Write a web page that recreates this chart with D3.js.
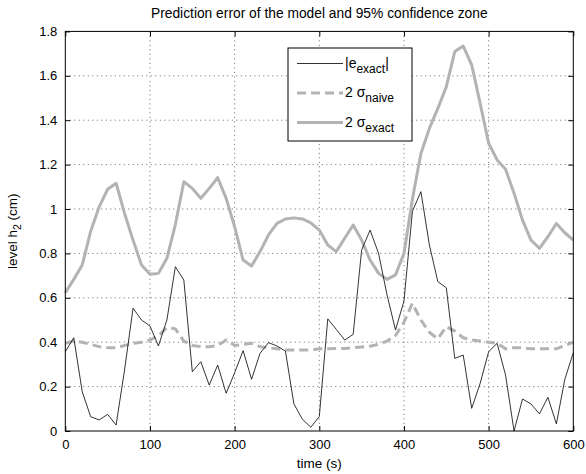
<!DOCTYPE html>
<html>
<head>
<meta charset="utf-8">
<script src="https://cdn.jsdelivr.net/npm/d3@7"></script>
<style>
  html, body { margin: 0; padding: 0; background: #fff; }
  svg { display: block; font-family: "Liberation Sans", Arial, Helvetica, sans-serif; }
</style>
</head>
<body>
<svg id="chart" width="586" height="474"></svg>
<script>
// ---- data ----
const time = d3.range(0, 601, 10);
const eExact = [0.357, 0.42, 0.177, 0.064, 0.05, 0.075, 0.027, 0.275, 0.553, 0.5,
  0.473, 0.383, 0.5, 0.74, 0.68, 0.267, 0.312, 0.207, 0.297, 0.17,
  0.262, 0.362, 0.233, 0.35, 0.398, 0.383, 0.36, 0.122, 0.053, 0.017,
  0.065, 0.505, 0.458, 0.41, 0.435, 0.815, 0.905, 0.80, 0.613, 0.455,
  0.585, 0.99, 1.078, 0.838, 0.673, 0.645, 0.327, 0.342, 0.102, 0.215,
  0.357, 0.395, 0.252, 0.0, 0.144, 0.122, 0.077, 0.152, 0.032, 0.233, 0.353];
const sigmaNaive = [0.395, 0.405, 0.40, 0.39, 0.38, 0.375, 0.375, 0.385, 0.395, 0.40,
  0.41, 0.43, 0.465, 0.46, 0.405, 0.385, 0.38, 0.38, 0.385, 0.41,
  0.385, 0.39, 0.395, 0.38, 0.375, 0.37, 0.365, 0.365, 0.365, 0.365,
  0.37, 0.37, 0.372, 0.372, 0.375, 0.378, 0.382, 0.39, 0.405, 0.43,
  0.49, 0.575, 0.50, 0.445, 0.415, 0.47, 0.45, 0.42, 0.41, 0.405,
  0.40, 0.395, 0.37, 0.375, 0.375, 0.37, 0.37, 0.37, 0.37, 0.385, 0.40];
const sigmaExact = [0.623, 0.683, 0.748, 0.90, 1.01, 1.089, 1.116, 0.98, 0.86, 0.748,
  0.706, 0.71, 0.778, 0.93, 1.123, 1.093, 1.048, 1.093, 1.141, 1.048,
  0.92, 0.77, 0.743, 0.808, 0.883, 0.935, 0.955, 0.96, 0.955, 0.938,
  0.905, 0.838, 0.808, 0.868, 0.928, 0.86, 0.77, 0.71, 0.683, 0.703,
  0.80, 1.045, 1.25, 1.363, 1.453, 1.551, 1.709, 1.734, 1.649, 1.476,
  1.296, 1.221, 1.179, 1.071, 0.95, 0.86, 0.823, 0.875, 0.935, 0.893, 0.86];
const xTicks = [0, 100, 200, 300, 400, 500, 600];
const yTicks = [0, 0.2, 0.4, 0.6, 0.8, 1, 1.2, 1.4, 1.6, 1.8];
const titleText = "Prediction error of the model and 95% confidence zone";

// ---- layout ----
const svg = d3.select("#chart");
const L = 65.3, R = 573.3, T = 31.4, B = 431;
const x = d3.scaleLinear().domain([0, 600]).range([L, R]);
const y = d3.scaleLinear().domain([0, 1.8]).range([B, T]);
const gray = "#b3b3b3";
const fmtY = d => (d === 0 ? "0" : d === 1 ? "1" : d3.format(".1f")(d));
const FS = 13;

// grid
const grid = svg.append("g").attr("stroke", "#000").attr("stroke-width", 0.6)
  .attr("stroke-dasharray", "1,3.5");
grid.selectAll("line.vx").data(xTicks.slice(1, -1)).join("line")
  .attr("x1", d => x(d)).attr("x2", d => x(d)).attr("y1", T).attr("y2", B);
grid.selectAll("line.hy").data(yTicks.slice(1, -1)).join("line")
  .attr("x1", L).attr("x2", R).attr("y1", d => y(d)).attr("y2", d => y(d));

// axes (ticks inside, MATLAB style)
const tl = 5;
svg.append("g").attr("transform", `translate(0,${B})`)
  .call(d3.axisBottom(x).tickValues(xTicks).tickSize(-tl).tickPadding(9).tickFormat(d3.format("d")))
  .call(g => g.select(".domain").remove())
  .call(g => g.selectAll("text").attr("font-size", FS).attr("fill", "#000").attr("font-family", "Liberation Sans, Arial, sans-serif"));
svg.append("g").attr("transform", `translate(0,${T})`)
  .call(d3.axisTop(x).tickValues(xTicks).tickSize(-tl).tickFormat(""))
  .call(g => g.select(".domain").remove());
svg.append("g").attr("transform", `translate(${L},0)`)
  .call(d3.axisLeft(y).tickValues(yTicks).tickSize(-tl).tickPadding(8).tickFormat(fmtY))
  .call(g => g.select(".domain").remove())
  .call(g => g.selectAll("text").attr("font-size", FS).attr("fill", "#000").attr("font-family", "Liberation Sans, Arial, sans-serif"));
svg.append("g").attr("transform", `translate(${R},0)`)
  .call(d3.axisRight(y).tickValues(yTicks).tickSize(-tl).tickFormat(""))
  .call(g => g.select(".domain").remove());

// lines
const mk = arr => d3.line().x((d, i) => x(time[i])).y(d => y(d))(arr);
svg.append("path").attr("d", mk(sigmaNaive)).attr("fill", "none")
  .attr("stroke", gray).attr("stroke-width", 3).attr("stroke-dasharray", "9,5");
svg.append("path").attr("d", mk(sigmaExact)).attr("fill", "none")
  .attr("stroke", gray).attr("stroke-width", 3).attr("stroke-linejoin", "round");
svg.append("path").attr("d", mk(eExact)).attr("fill", "none")
  .attr("stroke", "#000").attr("stroke-width", 0.8);

// frame
svg.append("rect").attr("x", L).attr("y", T).attr("width", R - L).attr("height", B - T)
  .attr("fill", "none").attr("stroke", "#000").attr("stroke-width", 1);

// title & labels
svg.append("text").attr("x", (L + R) / 2).attr("y", 18).attr("text-anchor", "middle")
  .attr("font-size", 13.8).text(titleText);
svg.append("text").attr("x", (L + R) / 2).attr("y", 468).attr("text-anchor", "middle")
  .attr("font-size", 13.5).text("time (s)");
const yl = svg.append("text").attr("transform", `translate(17,${(T + B) / 2}) rotate(-90)`)
  .attr("text-anchor", "middle").attr("font-size", 13.5);
yl.append("tspan").text("level h");
yl.append("tspan").attr("font-size", 10.5).attr("dy", 4).text("2");
yl.append("tspan").attr("dy", -4).text(" (cm)");

// legend
const lg = svg.append("g");
lg.append("rect").attr("x", 288).attr("y", 48).attr("width", 124).attr("height", 93)
  .attr("fill", "#fff").attr("stroke", "#000").attr("stroke-width", 1);
const legendItems = [
  { main: "|e", sub: "exact", tail: "|", stroke: "#000", w: 0.8, dash: null },
  { main: "2 σ", sub: "naive", tail: "", stroke: gray, w: 3, dash: "9,5" },
  { main: "2 σ", sub: "exact", tail: "", stroke: gray, w: 3, dash: null }
];
const rowY = [63.5, 93, 122.5];
legendItems.forEach((it, i) => {
  const yy = rowY[i];
  lg.append("line").attr("x1", 297).attr("x2", 343).attr("y1", yy).attr("y2", yy)
    .attr("stroke", it.stroke).attr("stroke-width", it.w)
    .attr("stroke-dasharray", it.dash);
  const t = lg.append("text").attr("x", 345).attr("y", yy + 4).attr("font-size", 14);
  t.append("tspan").text(it.main);
  t.append("tspan").attr("font-size", 12).attr("dy", 5).text(it.sub);
  if (it.tail) t.append("tspan").attr("dy", -5).text(it.tail);
});
</script>
</body>
</html>
